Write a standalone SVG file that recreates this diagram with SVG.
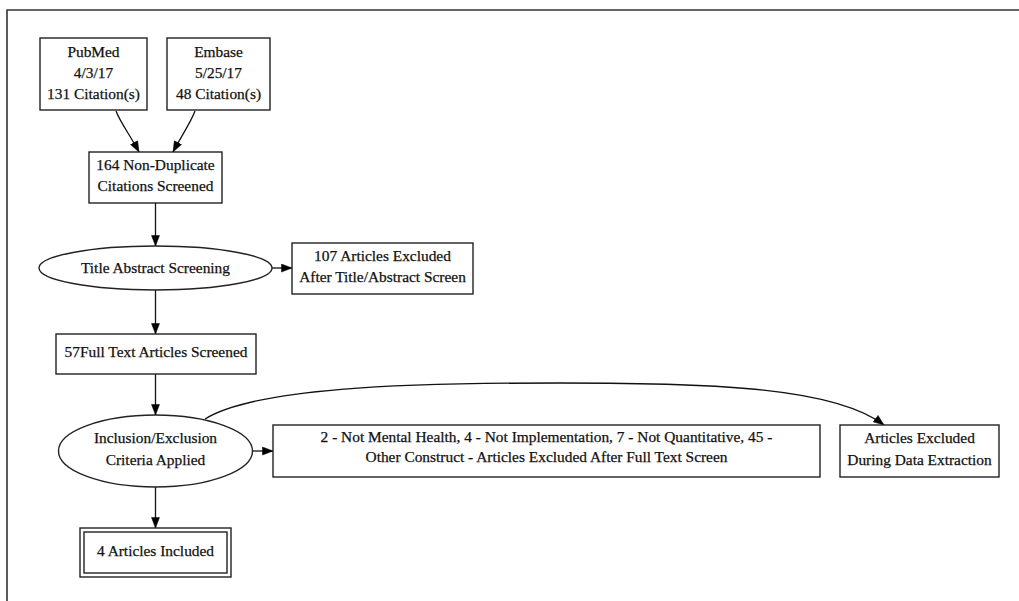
<svg xmlns="http://www.w3.org/2000/svg" width="1019" height="601" viewBox="0 0 1019 601">
<style>
.n{fill:#fff;stroke:#222;stroke-width:1.4}
.t{font-family:"Liberation Serif","Times New Roman",serif;font-size:15.4px;fill:#111;stroke:#111;stroke-width:0.25;text-anchor:middle}
.e{fill:none;stroke:#111;stroke-width:1.3}
</style>
<defs>
<marker id="ah" markerUnits="userSpaceOnUse" markerWidth="12" markerHeight="9" refX="11" refY="4.5" orient="auto">
<path d="M0.5,0.5 L11,4.5 L0.5,8.5 z" fill="#000" stroke="#000" stroke-width="0.5"/>
</marker>
</defs>
<rect x="0" y="0" width="1019" height="601" fill="#fff"/>
<path d="M7,601 L7,10 L1019,10" fill="none" stroke="#333" stroke-width="1.6"/>
<g id="connectors">
<path class="e" d="M116,111 C120,122 130,135 139,152" marker-end="url(#ah)"/>
<path class="e" d="M195,111 C191,122 182,135 173,152" marker-end="url(#ah)"/>
<path class="e" d="M155.5,203 L155.5,246" marker-end="url(#ah)"/>
<path class="e" d="M272,268 L292,268" marker-end="url(#ah)"/>
<path class="e" d="M155.5,290 L155.5,334" marker-end="url(#ah)"/>
<path class="e" d="M155.5,374 L155.5,415" marker-end="url(#ah)"/>
<path class="e" d="M252,451 L273,451" marker-end="url(#ah)"/>
<path class="e" d="M155.5,487 L155.5,528" marker-end="url(#ah)"/>
<path class="e" d="M205,419 C255,388 400,383 560,383 C720,383 835,388 884,425" marker-end="url(#ah)"/>
</g>
<g id="pubmed">
<rect class="n" x="40" y="38" width="107" height="72"/>
<text class="t" x="93.5" y="57">PubMed</text>
<text class="t" x="93.5" y="78">4/3/17</text>
<text class="t" x="93.5" y="99">131 Citation(s)</text>
</g>
<g id="embase">
<rect class="n" x="167" y="38" width="103" height="72"/>
<text class="t" x="218.5" y="57">Embase</text>
<text class="t" x="218.5" y="78">5/25/17</text>
<text class="t" x="218.5" y="99">48 Citation(s)</text>
</g>
<g id="nondup">
<rect class="n" x="89" y="152" width="133" height="51"/>
<text class="t" x="155.5" y="170">164 Non-Duplicate</text>
<text class="t" x="155.5" y="191">Citations Screened</text>
</g>
<g id="titleabs">
<ellipse class="n" cx="155.5" cy="268" rx="116.5" ry="22"/>
<text class="t" x="155.5" y="272.5">Title Abstract Screening</text>
</g>
<g id="excl107">
<rect class="n" x="292" y="243" width="181" height="51"/>
<text class="t" x="382.5" y="261">107 Articles Excluded</text>
<text class="t" x="382.5" y="282">After Title/Abstract Screen</text>
</g>
<g id="fulltext">
<rect class="n" x="56" y="334" width="200" height="40"/>
<text class="t" x="156" y="357">57Full Text Articles Screened</text>
</g>
<g id="criteria">
<ellipse class="n" cx="155.5" cy="451" rx="97" ry="36"/>
<text class="t" x="155.5" y="443">Inclusion/Exclusion</text>
<text class="t" x="155.5" y="465">Criteria Applied</text>
</g>
<g id="exclfull">
<rect class="n" x="273" y="425" width="547" height="52"/>
<text class="t" x="546.5" y="442">2 - Not Mental Health, 4 - Not Implementation, 7 - Not Quantitative, 45 -</text>
<text class="t" x="546.5" y="462">Other Construct - Articles Excluded After Full Text Screen</text>
</g>
<g id="excldata">
<rect class="n" x="840" y="425" width="159" height="52"/>
<text class="t" x="919.5" y="443">Articles Excluded</text>
<text class="t" x="919.5" y="465">During Data Extraction</text>
</g>
<g id="included">
<rect class="n" x="80" y="528" width="151" height="49"/>
<rect class="n" x="84" y="532" width="143" height="41"/>
<text class="t" x="155.5" y="556">4 Articles Included</text>
</g>
</svg>
